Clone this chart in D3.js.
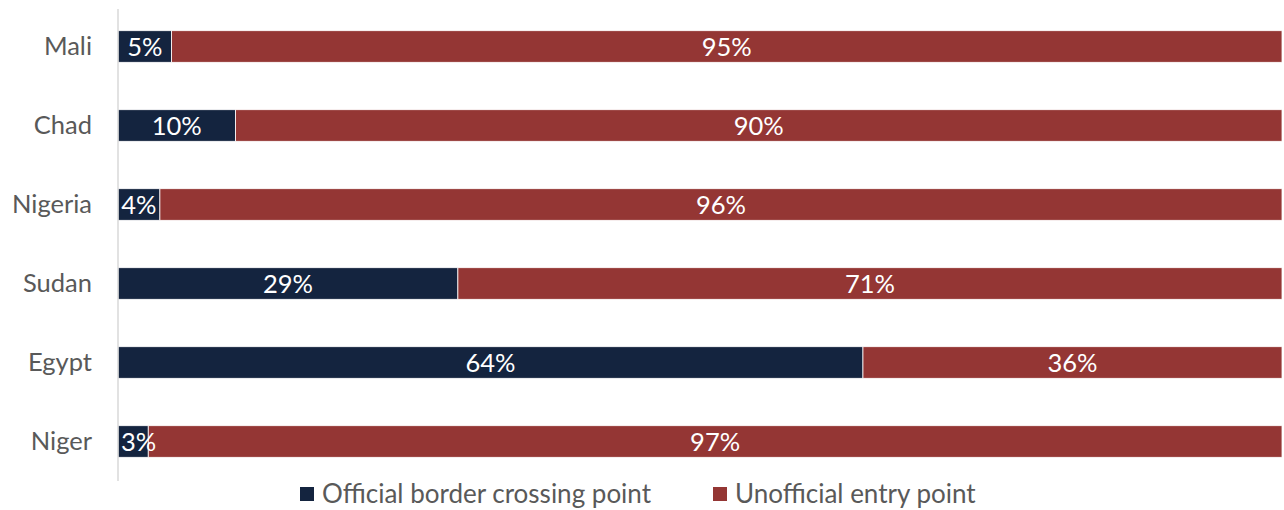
<!DOCTYPE html>
<html lang="en">
<head>
    <meta charset="UTF-8">
    <title>Entry points by country</title>
    <script src="https://d3js.org/d3.v7.min.js" charset="utf-8"></script>
    <style type="text/css">
        body {
            margin: 0;
            background: #fff;
            font-family: Lato, "Open Sans", sans-serif;
        }
    </style>
</head>
<body>
    <script type="text/javascript">
        const countries = ["Mali", "Chad", "Nigeria", "Sudan", "Egypt", "Niger"];
        // shares; labels show them rounded
        const official = [4.6, 10.1, 3.6, 29.2, 64.0, 2.6];
        const unofficial = [95.4, 89.9, 96.4, 70.8, 36.0, 97.4];
        const seriesNames = ["Official border crossing point", "Unofficial entry point"];
        const colors = ["#14243f", "#943634"];

        let w = 1284,
            h = 510,
            margin = { top: 7, right: 2, bottom: 29, left: 118 },
            fontSize = 25.5;

        let svg = d3.select("body").append("svg").attr("width", w).attr("height", h);

        const xScale = d3.scaleLinear()
            .domain([0, 100])
            .range([margin.left, w - margin.right]);

        const yScale = d3.scaleBand()
            .domain(countries)
            .range([margin.top, h - margin.bottom])
            .paddingInner(0.6)
            .paddingOuter(0.3);

        // stack the two series
        const rows = countries.map((c, i) => ({ country: c, official: official[i], unofficial: unofficial[i] }));
        const stacked = d3.stack().keys(["official", "unofficial"])(rows);

        const layer = svg.selectAll("g.layer")
            .data(stacked)
            .enter()
            .append("g")
            .attr("class", "layer")
            .attr("fill", (d, i) => colors[i]);

        layer.selectAll("rect")
            .data(d => d)
            .enter()
            .append("rect")
            .attr("x", d => xScale(d[0]))
            .attr("y", d => yScale(d.data.country))
            .attr("width", d => xScale(d[1]) - xScale(d[0]))
            .attr("height", yScale.bandwidth())
            .attr("stroke", "#fff")
            .attr("stroke-width", 0.8);

        // labels go on top of all bars so the small ones can spill over
        const labels = svg.append("g").attr("class", "labels");
        stacked.forEach(series => {
            labels.selectAll(null)
                .data(series)
                .enter()
                .append("text")
                .attr("x", d => (xScale(d[0]) + xScale(d[1])) / 2)
                .attr("y", d => yScale(d.data.country) + yScale.bandwidth() / 2)
                .attr("dy", "0.36em")
                .attr("text-anchor", "middle")
                .attr("fill", "#fff")
                .attr("font-size", fontSize)
                .text(d => Math.round(d[1] - d[0]) + "%")
                .each(function (d) {
                    // keep the label inside the plot's left edge
                    let half = this.getComputedTextLength() / 2;
                    let cx = +this.getAttribute("x");
                    if (cx - half < xScale(d[0]) + 3) {
                        d3.select(this).attr("x", xScale(d[0]) + 3 + half);
                    }
                });
        });

        // y axis
        const yAxis = d3.axisLeft(yScale).tickSize(0).tickPadding(26);
        const yAxisLine = svg.append("g")
            .attr("class", "yAxis")
            .attr("transform", `translate(${margin.left}, 0)`)
            .call(yAxis);
        yAxisLine.select(".domain")
            .attr("stroke", "#d9d9d9")
            .attr("stroke-width", 1.5)
            .attr("d", `M0,${margin.top + 2}V${h - margin.bottom}`);
        yAxisLine.selectAll("text")
            .attr("font-size", fontSize)
            .attr("font-family", "Lato, sans-serif")
            .attr("fill", "#595959");

        // legend
        const legendX = [300, 713];
        const legend = svg.append("g").attr("class", "legend");
        seriesNames.forEach((name, i) => {
            const g = legend.append("g").attr("transform", `translate(${legendX[i]}, 494)`);
            g.append("rect")
                .attr("x", 0)
                .attr("y", -7)
                .attr("width", 14)
                .attr("height", 14)
                .attr("fill", colors[i]);
            g.append("text")
                .attr("x", 22)
                .attr("dy", "0.36em")
                .attr("font-size", 26)
                .attr("fill", "#595959")
                .text(name);
        });
    </script>
</body>
</html>
